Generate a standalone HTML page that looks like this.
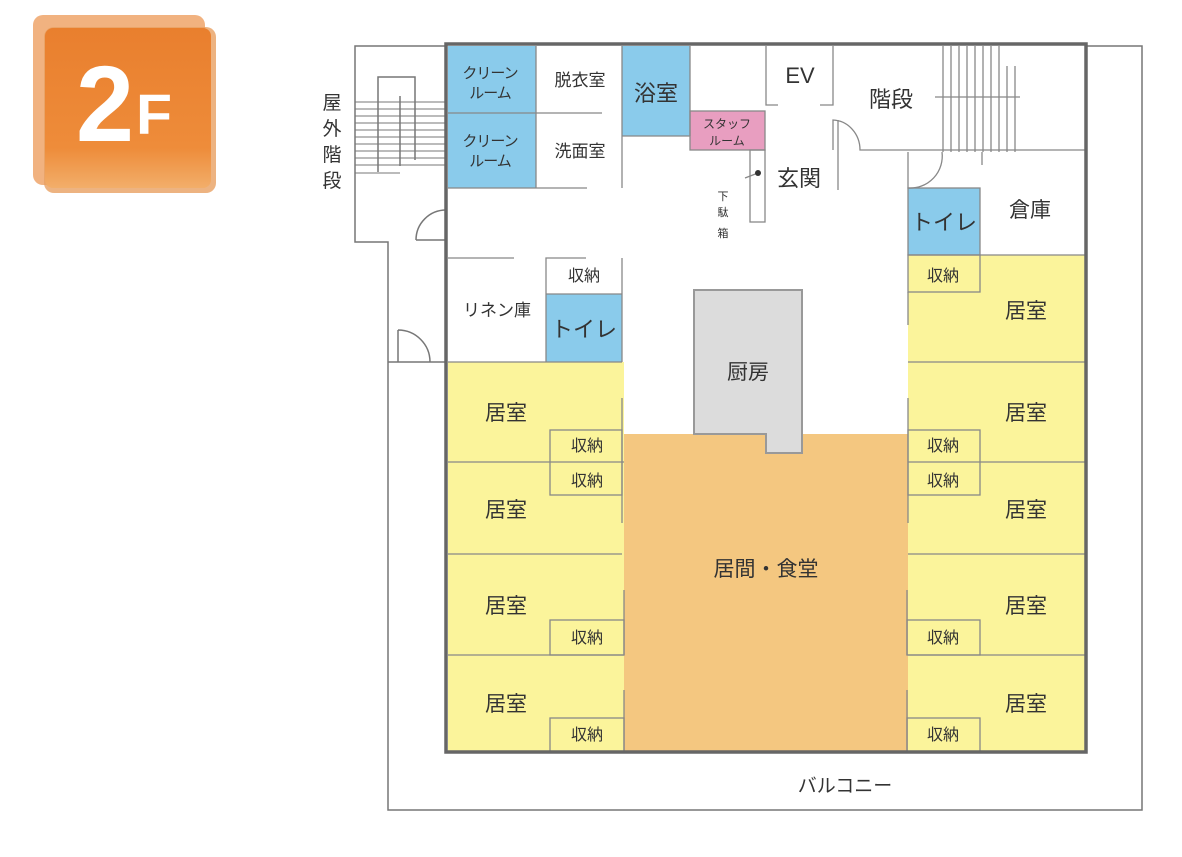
<!DOCTYPE html>
<html><head><meta charset="utf-8"><style>
body{margin:0;background:#fff;width:1182px;height:852px;overflow:hidden}
svg text{font-family:"Liberation Sans","Noto Sans CJK JP",sans-serif;fill:#333}
</style></head><body>
<svg width="1182" height="852" viewBox="0 0 1182 852" xmlns="http://www.w3.org/2000/svg">
<defs>
<linearGradient id="og" x1="0" y1="0" x2="0" y2="1"><stop offset="0" stop-color="#e97f2e"/><stop offset="0.75" stop-color="#ee8c3a"/><stop offset="1" stop-color="#f2ae6a"/></linearGradient>
</defs>
<!-- badge -->
<rect x="33" y="15" width="172" height="170" rx="10" fill="#eea56a" opacity="0.85"/>
<rect x="44" y="27" width="172" height="166" rx="10" fill="#e9a062" opacity="0.8"/>
<rect x="45" y="28" width="166" height="160" rx="8" fill="url(#og)"/>
<text x="76" y="141" font-size="108" font-weight="bold" textLength="58" lengthAdjust="spacingAndGlyphs" style="fill:#fff">2</text>
<text x="136" y="134" font-size="57" font-weight="bold" textLength="36" lengthAdjust="spacingAndGlyphs" style="fill:#fff">F</text>

<g stroke="#777" stroke-width="1.5" fill="none">
<polyline points="446,46 355,46 355,242 388,242 388,810 1142,810 1142,46 1086,46"/>
<line x1="388" y1="362" x2="446" y2="362"/>
<polyline points="378,172 378,77 415,77 415,160"/>
<polyline points="400,96 400,166"/>
<g stroke-width="1">
<line x1="355" y1="102" x2="446" y2="102"/><line x1="355" y1="109" x2="446" y2="109"/>
<line x1="355" y1="116" x2="446" y2="116"/><line x1="355" y1="123" x2="446" y2="123"/>
<line x1="355" y1="130" x2="446" y2="130"/><line x1="355" y1="137" x2="446" y2="137"/>
<line x1="355" y1="144" x2="446" y2="144"/><line x1="355" y1="151" x2="446" y2="151"/>
<line x1="355" y1="158" x2="446" y2="158"/><line x1="355" y1="165" x2="446" y2="165"/>
<line x1="355" y1="173" x2="400" y2="173"/>
</g>
<path d="M416,240 A30,30 0 0 1 446,210 M416,240 L446,240"/>
<path d="M398,330 L398,362 M398,330 A32,32 0 0 1 430,362"/>
</g>

<rect x="448" y="46" width="88" height="142" fill="#8acbeb"/>
<rect x="622" y="46" width="68" height="90" fill="#8acbeb"/>
<rect x="690" y="111" width="75" height="39" fill="#e89ec0"/>
<rect x="546" y="294" width="76" height="68" fill="#8acbeb"/>
<rect x="908" y="188" width="72" height="67" fill="#8acbeb"/>
<rect x="908" y="255" width="178" height="497" fill="#fbf49b"/>
<rect x="448" y="362" width="176" height="390" fill="#fbf49b"/>
<rect x="624" y="434" width="284" height="318" fill="#f4c780"/>
<path d="M694,290 H802 V453 H766 V434 H694 Z" fill="#dcdcdc" stroke="#999" stroke-width="2"/>

<g stroke="#888" stroke-width="1.3" fill="none">
<line x1="448" y1="113" x2="602" y2="113"/>
<line x1="536" y1="46" x2="536" y2="188"/>
<line x1="448" y1="188" x2="587" y2="188"/>
<line x1="622" y1="46" x2="622" y2="188"/>
<line x1="622" y1="136" x2="690" y2="136"/>
<line x1="690" y1="46" x2="690" y2="136"/>
<rect x="690" y="111" width="75" height="39"/>
<polyline points="766,46 766,105 778,105"/><polyline points="820,105 833,105 833,46"/>
<line x1="838" y1="120" x2="838" y2="190"/>
<rect x="750" y="150" width="15" height="72"/>
<line x1="745" y1="178" x2="758" y2="173"/>
<path d="M833,150 V120 A28,30 0 0 1 860,150 H1086"/>
<line x1="943" y1="46" x2="943" y2="152"/><line x1="951" y1="46" x2="951" y2="152"/>
<line x1="959" y1="46" x2="959" y2="152"/><line x1="967" y1="46" x2="967" y2="152"/>
<line x1="975" y1="46" x2="975" y2="152"/><line x1="983" y1="46" x2="983" y2="152"/>
<line x1="991" y1="46" x2="991" y2="152"/><line x1="999" y1="46" x2="999" y2="152"/>
<line x1="1007" y1="66" x2="1007" y2="152"/><line x1="1015" y1="66" x2="1015" y2="152"/>
<line x1="935" y1="97" x2="1020" y2="97"/>
<line x1="982" y1="152" x2="982" y2="165"/>
<path d="M908,152 V188 A32,32 0 0 0 942,152"/>
<rect x="908" y="188" width="72" height="67"/>
<line x1="980" y1="255" x2="1086" y2="255"/>
<rect x="908" y="255" width="72" height="37"/>
<line x1="908" y1="292" x2="908" y2="325"/>
<line x1="448" y1="258" x2="514" y2="258"/>
<polyline points="546,362 546,258 586,258"/>
<line x1="546" y1="294" x2="622" y2="294"/>
<line x1="622" y1="258" x2="622" y2="362"/>
<line x1="448" y1="362" x2="622" y2="362"/>
<line x1="448" y1="462" x2="624" y2="462"/>
<line x1="448" y1="554" x2="622" y2="554"/>
<line x1="448" y1="655" x2="624" y2="655"/>
<line x1="622" y1="398" x2="622" y2="523"/>
<line x1="624" y1="590" x2="624" y2="655"/>
<line x1="624" y1="690" x2="624" y2="752"/>
<rect x="550" y="430" width="72" height="65"/>
<rect x="550" y="620" width="74" height="35"/>
<rect x="550" y="718" width="74" height="34"/>
<line x1="908" y1="362" x2="1086" y2="362"/>
<line x1="908" y1="462" x2="1086" y2="462"/>
<line x1="908" y1="554" x2="1086" y2="554"/>
<line x1="908" y1="655" x2="1086" y2="655"/>
<line x1="908" y1="398" x2="908" y2="523"/>
<line x1="907" y1="590" x2="907" y2="655"/>
<line x1="907" y1="690" x2="907" y2="752"/>
<rect x="908" y="430" width="72" height="65"/>
<rect x="907" y="620" width="73" height="35"/>
<rect x="907" y="718" width="73" height="34"/>
</g>
<circle cx="758" cy="173" r="3" fill="#333"/>
<rect x="446" y="44" width="640" height="708" fill="none" stroke="#666" stroke-width="3.5"/>

<g font-size="19" text-anchor="middle">
<text x="332" y="109">屋</text><text x="332" y="135">外</text><text x="332" y="161">階</text><text x="332" y="187">段</text>
</g>
<g font-size="15" text-anchor="middle" letter-spacing="-1">
<text x="490" y="78">クリーン</text><text x="490" y="98">ルーム</text>
<text x="490" y="146">クリーン</text><text x="490" y="166">ルーム</text>
</g>
<g font-size="17" text-anchor="middle">
<text x="580" y="86">脱衣室</text><text x="580" y="157">洗面室</text>
<text x="497" y="316">リネン庫</text>
</g>
<text x="656" y="101" font-size="22" text-anchor="middle">浴室</text>
<text x="727" y="128" font-size="12" text-anchor="middle">スタッフ</text>
<text x="727" y="145" font-size="12" text-anchor="middle">ルーム</text>
<text x="800" y="83" font-size="22" text-anchor="middle">EV</text>
<text x="891" y="107" font-size="22" text-anchor="middle">階段</text>
<text x="799" y="186" font-size="22" text-anchor="middle">玄関</text>
<g font-size="11" text-anchor="middle"><text x="723" y="200">下</text><text x="723" y="216">駄</text><text x="723" y="237">箱</text></g>
<text x="1030" y="217" font-size="21" text-anchor="middle">倉庫</text>
<text x="944" y="230" font-size="22" text-anchor="middle">トイレ</text>
<text x="584" y="337" font-size="22" text-anchor="middle">トイレ</text>
<text x="748" y="379" font-size="21" text-anchor="middle">厨房</text>
<text x="766" y="576" font-size="21" text-anchor="middle">居間・食堂</text>
<text x="845" y="792" font-size="19" text-anchor="middle">バルコニー</text>
<g font-size="21" text-anchor="middle">
<text x="506" y="420">居室</text><text x="506" y="517">居室</text><text x="506" y="613">居室</text><text x="506" y="711">居室</text>
<text x="1026" y="318">居室</text><text x="1026" y="420">居室</text><text x="1026" y="517">居室</text><text x="1026" y="613">居室</text><text x="1026" y="711">居室</text>
</g>
<g font-size="16" text-anchor="middle">
<text x="584" y="281">収納</text>
<text x="587" y="451">収納</text><text x="587" y="486">収納</text><text x="587" y="643">収納</text><text x="587" y="740">収納</text>
<text x="943" y="281">収納</text>
<text x="943" y="451">収納</text><text x="943" y="486">収納</text><text x="943" y="643">収納</text><text x="943" y="740">収納</text>
</g>
</svg>
</body></html>
